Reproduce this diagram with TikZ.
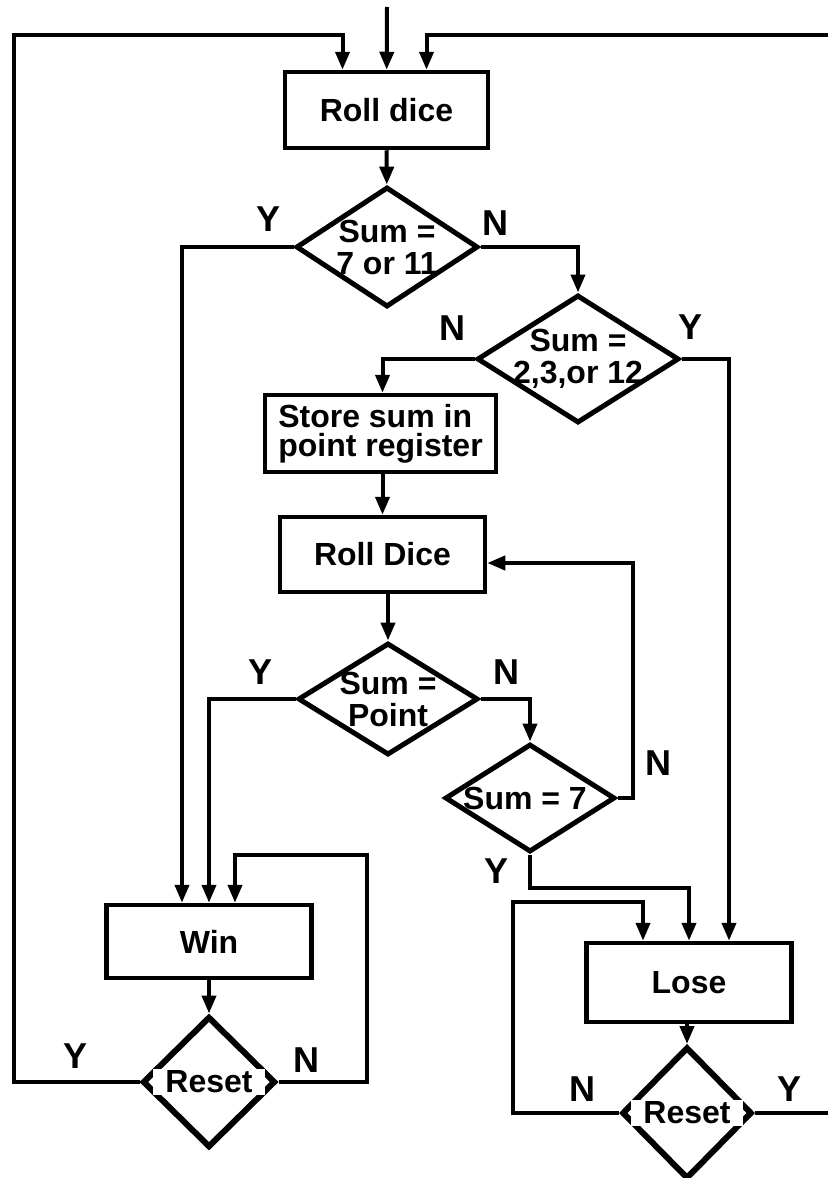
\documentclass[tikz,border=0pt]{standalone}
\usepackage{fontspec}
\setmainfont{Liberation Sans}
\usetikzlibrary{arrows.meta, shapes.geometric}

\begin{document}
\begin{tikzpicture}[x=0.5pt, y=-0.5pt,
    box/.style={draw, rectangle, line width=2.25pt, inner sep=0pt, font=\bfseries\fontsize{16}{14.5}\selectfont},
    dec/.style={draw, diamond, line width=2.5pt, inner sep=0pt},
    txt/.style={font=\bfseries\fontsize{16}{16}\selectfont, align=center, inner sep=0pt},
    yn/.style={font=\bfseries\fontsize{18}{18}\selectfont, inner sep=0pt},
    arr/.style={line width=2pt, -{Triangle[length=9pt, width=7pt]}},
    wire/.style={line width=2pt}]
    \useasboundingbox (0,0) rectangle (828,1178);

    % first roll
    \coordinate (start) at (387,7);
    \node[box, minimum width=101.5pt, minimum height=38pt] (roll1) at (386.5,110) {Roll dice};
    \node[dec, minimum width=91pt, minimum height=60pt] (d1) at (387,247) {};
    \node[txt] (t1) at (d1) {Sum =\\7 or 11};
    \node[dec, minimum width=101pt, minimum height=64pt] (d2) at (578,359) {};
    \node[txt] (t2) at (d2) {Sum =\\2,3,or 12};

    % point loop
    \node[box, align=left, minimum width=115.5pt, minimum height=38.5pt] (store) at (380.5,433.5) {Store sum in\\point register};
    \node[box, minimum width=102.5pt, minimum height=37.5pt] (roll2) at (382.5,554.5) {Roll Dice};
    \node[dec, minimum width=90pt, minimum height=56pt] (d3) at (388,699) {};
    \node[txt] (t3) at (d3) {Sum =\\Point};
    \node[dec, minimum width=85pt, minimum height=54pt] (d4) at (530,798) {};
    \node[txt] (t4) at ([xshift=-2.5pt]d4.center) {Sum = 7};

    % end states
    \node[box, minimum width=102.5pt, minimum height=36.5pt] (win) at (209,941.5) {Win};
    \node[dec, line width=3pt, minimum width=66.5pt, minimum height=65.5pt] (r1) at (209,1082) {};
    \node[txt, fill=white, inner xsep=6pt, inner ysep=1pt] (t5) at (r1) {Reset};
    \node[box, minimum width=102.5pt, minimum height=39.5pt] (lose) at (689,982.5) {Lose};
    \node[dec, line width=3pt, minimum width=65pt, minimum height=66pt] (r2) at (687,1113) {};
    \node[txt, fill=white, inner xsep=6pt, inner ysep=1pt] (t6) at (r2) {Reset};

    % connectors
    \draw[arr] (start) -- (roll1);
    \draw[arr] (roll1) -- (d1);
    \draw[arr] (d1.west) -| ([xshift=-13.5pt]win.north);
    \draw[arr] (d1.east) -| (d2.north);
    \draw[arr] (d2.west) -| ([xshift=1pt]store.north);
    \draw[arr] (d2.east) -| ([xshift=20pt]lose.north);
    \draw[arr] ([xshift=1pt]store.south) -- ([xshift=1pt]store.south |- roll2.north);
    \draw[arr] (d3.north |- roll2.south) -- (d3.north);
    \draw[arr] (d3.west) -| (win.north);
    \draw[arr] (d3.east) -| (d4.north);
    \draw[arr] (d4.east) -- (633,798) -- (633,563) -- (roll2.east |- 0,563);
    \draw[arr] (d4.south) -- (530,888) -| (lose.north);
    \draw[arr] (r2.north |- lose.south) -- (r2.north);
    \draw[arr] (r2.west) -- (513,1113) -- (513,902) -| ([xshift=-23pt]lose.north);
    \draw[arr] (r2.east) -- (850,1113) -- (850,35) -| ([xshift=20pt]roll1.north);
    \draw[arr] (win) -- (r1);
    \draw[arr] (r1.east) -- (367,1082) -- (367,855) -| ([xshift=13pt]win.north);
    \draw[arr] (r1.west) -- (14,1082) -- (14,35) -| ([xshift=-22pt]roll1.north);

    % branch labels
    \node[yn] (y1) at (269,219) {Y};
    \node[yn] (n1) at (495,223) {N};
    \node[yn] (n2) at (452,328) {N};
    \node[yn] (y2) at (690,327) {Y};
    \node[yn] (y3) at (261,672) {Y};
    \node[yn] (n3) at (506,672) {N};
    \node[yn] (n4) at (658,763) {N};
    \node[yn] (y4) at (497,871) {Y};
    \node[yn] (y5) at (76,1056) {Y};
    \node[yn] (n5) at (306,1060) {N};
    \node[yn] (n6) at (582,1089) {N};
    \node[yn] (y6) at (789,1089) {Y};
\end{tikzpicture}
\end{document}
